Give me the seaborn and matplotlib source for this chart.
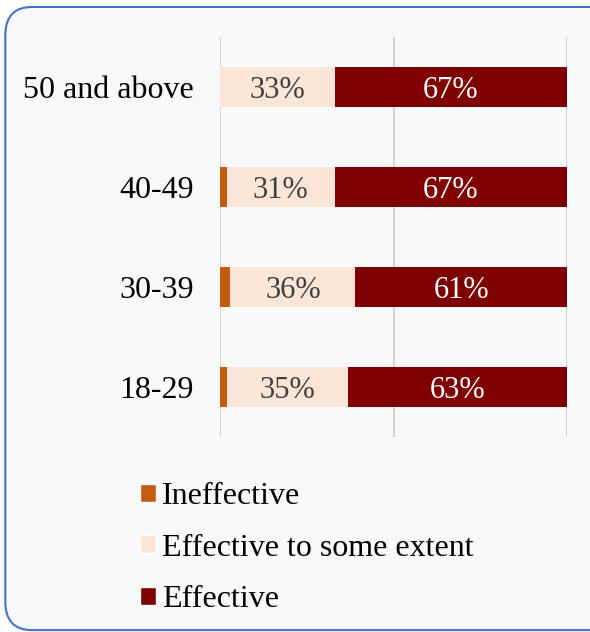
import matplotlib
matplotlib.use("Agg")
import matplotlib.pyplot as plt
from matplotlib.patches import FancyBboxPatch, Patch
import numpy as np
import pandas as pd
import seaborn as sns

groups = ["50 and above", "40-49", "30-39", "18-29"]
ineffective = [0, 2, 3, 2]
some_extent = [33, 31, 36, 35]
effective = [67, 67, 61, 63]

c_ineff = "#C55A11"
c_some = "#FBE5D6"
c_eff = "#7F0000"

sns.set_theme(style="white")
plt.rcParams["font.family"] = ["Liberation Serif", "DejaVu Serif"]
plt.rcParams["text.color"] = "black"

df = pd.DataFrame({"group": groups, "ineff": ineffective,
                   "some": some_extent, "eff": effective})
df["cum1"] = df["ineff"]
df["cum2"] = df["ineff"] + df["some"]
df["cum3"] = df["cum2"] + df["eff"]

fig = plt.figure(figsize=(5.9, 6.32), dpi=100)
fig.patch.set_facecolor("white")
box = FancyBboxPatch((0.009, 0.003), 1.2, 0.986, boxstyle="round,pad=0,rounding_size=0.045",
                     transform=fig.transFigure, facecolor="#F8F9FA",
                     edgecolor="#4472C4", linewidth=1.5, zorder=-5)
fig.patches.append(box)

ax = fig.add_axes([0.373, 0.3085, 0.588, 0.633])
ax.set_zorder(2)
ax.set_facecolor("none")

# stacked bars drawn as overlapping cumulative totals
for col, c in [("cum3", c_eff), ("cum2", c_some), ("cum1", c_ineff)]:
    sns.barplot(data=df, x=col, y="group", order=groups, color=c,
                width=0.4, saturation=1, linewidth=0, ax=ax, zorder=3)

for i in range(len(groups)):
    ax.text(df["ineff"][i] + df["some"][i] / 2, i, f"{some_extent[i]}%",
            ha="center", va="center_baseline", fontsize=22, color="#404040", zorder=5)
    ax.text(df["cum2"][i] + df["eff"][i] / 2, i, f"{effective[i]}%",
            ha="center", va="center_baseline", fontsize=22, color="white", zorder=5)

ax.set_xlim(0, 100)
ax.set_ylim(3.5, -0.5)
ax.set_xticks([0, 50, 100])
ax.set_xticklabels([])
ax.xaxis.grid(True, color="#D0D0D0", linewidth=1.3, zorder=0)
ax.yaxis.grid(False)
ax.tick_params(axis="both", length=0)
ax.tick_params(axis="y", pad=19, labelsize=23, labelcolor="black")
ax.set_xlabel("")
ax.set_ylabel("")
for s in ax.spines.values():
    s.set_visible(False)

handles = [Patch(facecolor=c_ineff, label="Ineffective"),
           Patch(facecolor=c_some, label="Effective to some extent"),
           Patch(facecolor=c_eff, label="Effective")]
leg = fig.legend(handles=handles, loc="upper left", bbox_to_anchor=(0.215, 0.257),
                 frameon=False, fontsize=23, handlelength=0.5, handleheight=0.5,
                 handletextpad=0.2, labelspacing=0.7, borderaxespad=0)
for t in leg.get_texts():
    t.set_color("black")

fig.savefig("out.png", dpi=100, facecolor=fig.get_facecolor())
